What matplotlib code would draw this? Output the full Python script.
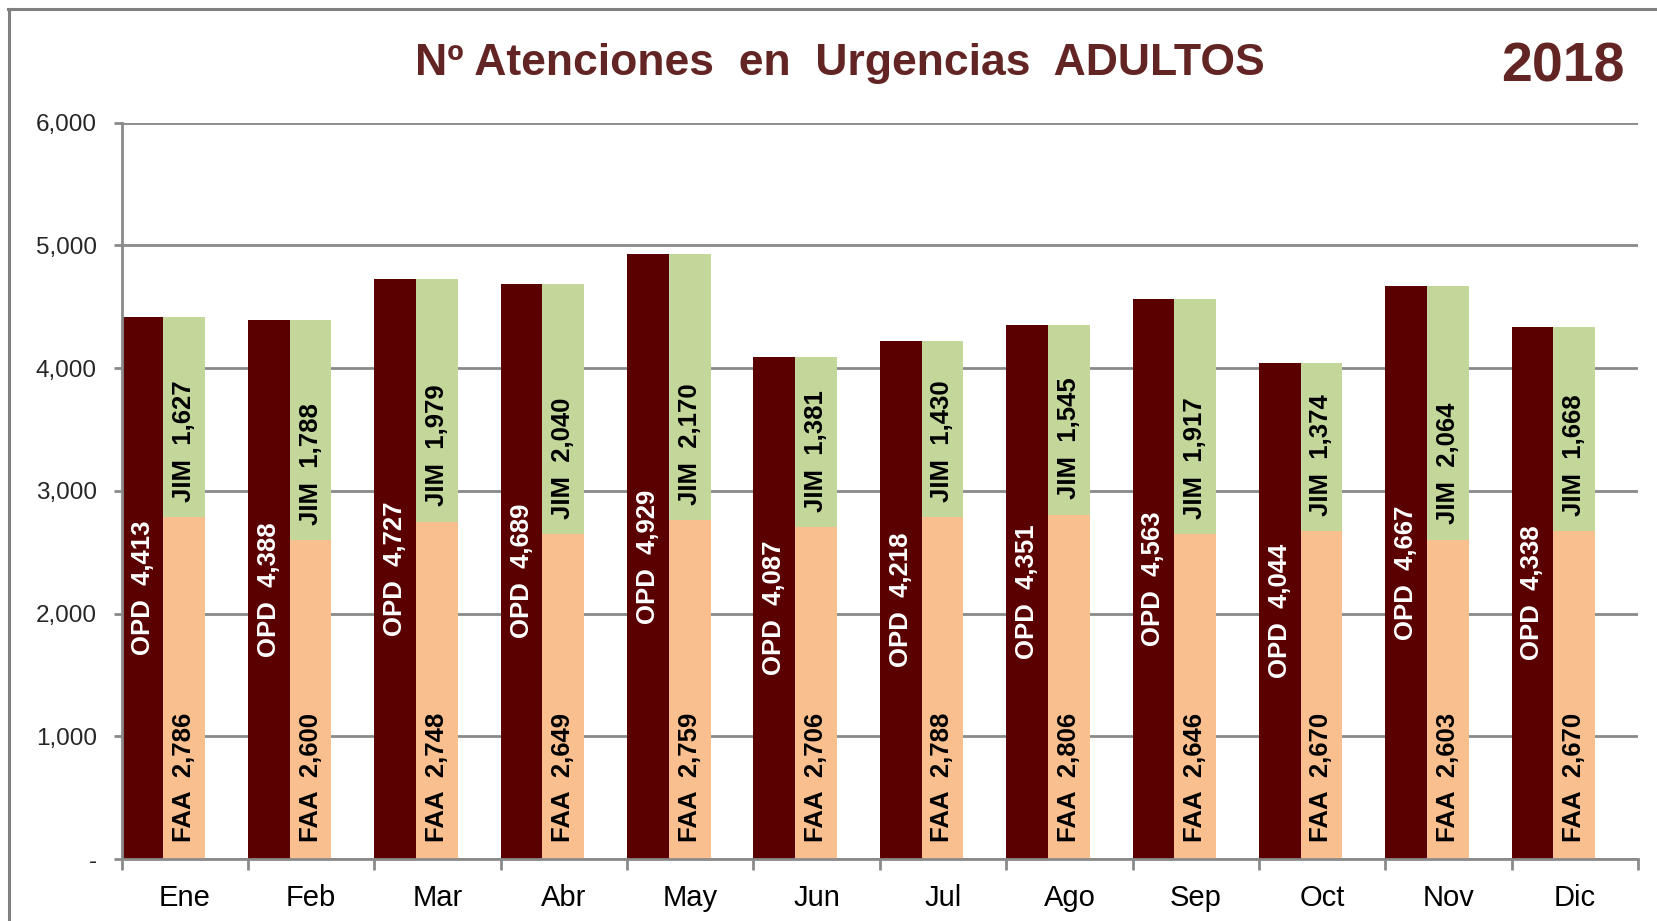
import matplotlib
matplotlib.use("Agg")
import matplotlib.pyplot as plt
from matplotlib.lines import Line2D
import numpy as np

months = ["Ene", "Feb", "Mar", "Abr", "May", "Jun", "Jul", "Ago", "Sep", "Oct", "Nov", "Dic"]
opd = [4413, 4388, 4727, 4689, 4929, 4087, 4218, 4351, 4563, 4044, 4667, 4338]
faa = [2786, 2600, 2748, 2649, 2759, 2706, 2788, 2806, 2646, 2670, 2603, 2670]
jim = [1627, 1788, 1979, 2040, 2170, 1381, 1430, 1545, 1917, 1374, 2064, 1668]
yticks = [0, 1000, 2000, 3000, 4000, 5000, 6000]
yticklabels = ["-", "1,000", "2,000", "3,000", "4,000", "5,000", "6,000"]

C_OPD = "#5a0000"
C_FAA = "#f9bf8f"
C_JIM = "#c4d79b"
C_TITLE = "#632523"
GRID = "#8a8a8a"

plt.rcParams['font.family'] = ['Liberation Sans', 'DejaVu Sans']

W, H = 1657, 921
fig = plt.figure(figsize=(W / 100, H / 100), dpi=100)

# outer border
fig.add_artist(Line2D([8 / W, 1], [1 - 9 / H, 1 - 9 / H], color="#808080", lw=2.2, transform=fig.transFigure))
fig.add_artist(Line2D([9 / W, 9 / W], [0, 1 - 9 / H], color="#808080", lw=2.2, transform=fig.transFigure))

left, right = 121.7 / W, 1638 / W
bottom, top = 1 - 859 / H, 1 - 122.6 / H
ax = fig.add_axes([left, bottom, right - left, top - bottom])

n = len(months)
x = np.arange(n)
w = 0.33
ax.bar(x, opd, width=w, align="edge", color=C_OPD, zorder=3)
ax.bar(x + w, faa, width=w, align="edge", color=C_FAA, zorder=3)
ax.bar(x + w, jim, width=w, bottom=faa, align="edge", color=C_JIM, zorder=3)

lab_fs = 18.5
for i in range(n):
    ax.text(x[i] + w / 2, opd[i] / 2, f"OPD  {opd[i]:,}", rotation=90, ha="center", va="center",
            color="white", fontsize=lab_fs, fontweight="bold", zorder=4)
    ax.annotate(f"FAA  {faa[i]:,}", xy=(x[i] + 1.5 * w, 0), xytext=(0, 12), textcoords="offset points",
                rotation=90, ha="center", va="bottom", color="black", fontsize=lab_fs,
                fontweight="bold", zorder=4)
    ax.annotate(f"JIM  {jim[i]:,}", xy=(x[i] + 1.5 * w, faa[i]), xytext=(0, 11), textcoords="offset points",
                rotation=90, ha="center", va="bottom", color="black", fontsize=lab_fs,
                fontweight="bold", zorder=4)

ax.set_xlim(0, n)
ax.set_ylim(0, 6000)
ax.set_yticks(yticks)
ax.set_yticklabels(yticklabels, fontsize=17.5, color="#262626")
ax.yaxis.grid(True, color=GRID, lw=2, zorder=0)
ax.set_axisbelow(True)

ax.set_xticks(np.arange(n + 1))
ax.set_xticklabels([])
ax.set_xticks(x + 0.5, minor=True)
ax.set_xticklabels(months, minor=True, fontsize=21, color="black")
ax.tick_params(axis="x", which="major", length=8, width=2, color=GRID, direction="out")
ax.tick_params(axis="x", which="minor", length=0, pad=18)
ax.tick_params(axis="y", length=6, width=2, color=GRID, pad=12)

for s in ["top", "right"]:
    ax.spines[s].set_visible(False)
for s in ["left", "bottom"]:
    ax.spines[s].set_color(GRID)
    ax.spines[s].set_linewidth(2)
    ax.spines[s].set_zorder(5)

fig.text(840 / W, 1 - 64 / H, "Nº Atenciones  en  Urgencias  ADULTOS", ha="center", va="center",
         fontsize=32, fontweight="bold", color=C_TITLE)
fig.text(1563 / W, 1 - 67 / H, "2018", ha="center", va="center",
         fontsize=40, fontweight="bold", color=C_TITLE)

fig.savefig("out.png", dpi=100)
